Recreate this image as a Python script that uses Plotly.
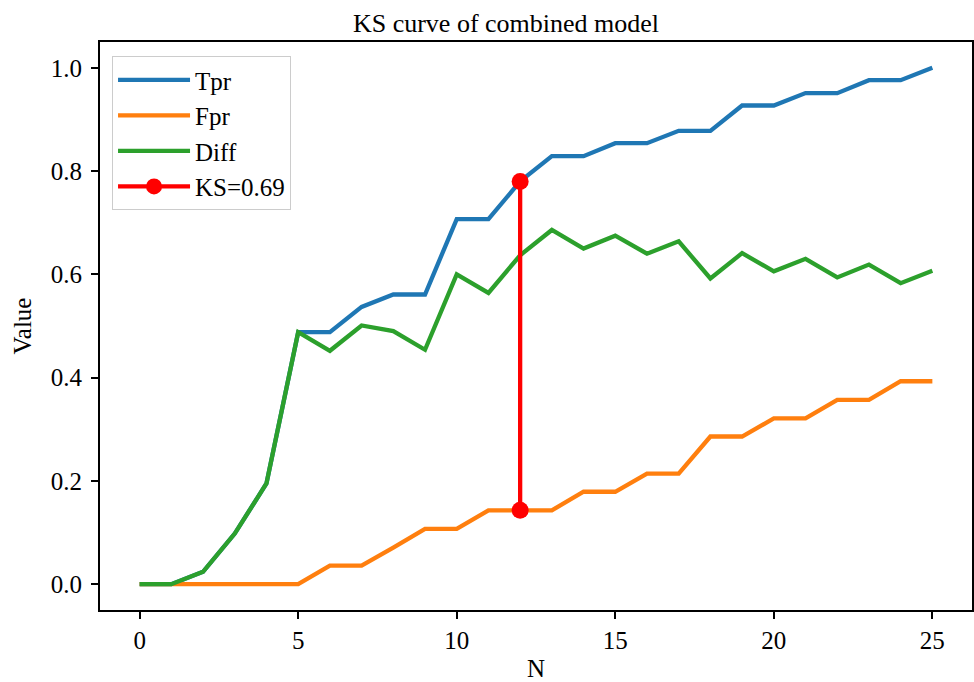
import plotly.graph_objects as go

N = list(range(26))
tpr = [0.0, 0.0, 0.024, 0.098, 0.195, 0.488, 0.488, 0.537, 0.561, 0.561,
       0.707, 0.707, 0.780, 0.829, 0.829, 0.854, 0.854, 0.878, 0.878, 0.927,
       0.927, 0.951, 0.951, 0.976, 0.976, 1.0]
fpr = [0.0, 0.0, 0.0, 0.0, 0.0, 0.0, 0.036, 0.036, 0.071, 0.107,
       0.107, 0.143, 0.143, 0.143, 0.179, 0.179, 0.214, 0.214, 0.286, 0.286,
       0.321, 0.321, 0.357, 0.357, 0.393, 0.393]
diff = [0.0, 0.0, 0.024, 0.098, 0.195, 0.488, 0.452, 0.501, 0.490, 0.454,
        0.600, 0.564, 0.637, 0.686, 0.650, 0.675, 0.640, 0.664, 0.592, 0.641,
        0.606, 0.630, 0.594, 0.619, 0.583, 0.607]
ks_x = [12, 12]
ks_y = [0.780, 0.143]
ks_label = "KS=0.69"

FONT = "Liberation Serif, Times New Roman, serif"

fig = go.Figure()
fig.add_trace(go.Scatter(x=N, y=tpr, mode="lines", name="Tpr",
                         line=dict(color="#1f77b4", width=4.3)))
fig.add_trace(go.Scatter(x=N, y=fpr, mode="lines", name="Fpr",
                         line=dict(color="#ff7f0e", width=4.3)))
fig.add_trace(go.Scatter(x=N, y=diff, mode="lines", name="Diff",
                         line=dict(color="#2ca02c", width=4.3)))
fig.add_trace(go.Scatter(x=ks_x, y=ks_y, mode="lines+markers", name=ks_label,
                         line=dict(color="#ff0000", width=4.3),
                         marker=dict(color="#ff0000", size=17)))

axis_common = dict(
    showgrid=False, zeroline=False, showline=True, linecolor="black",
    linewidth=2, mirror=True, ticks="outside", ticklen=7, tickwidth=2,
    tickcolor="black", tickfont=dict(family=FONT, size=25, color="black"),
    automargin=False,
)

fig.update_layout(
    width=974, height=682,
    margin=dict(l=100, r=2, t=42, b=72),
    paper_bgcolor="white", plot_bgcolor="white",
    font=dict(family=FONT, size=25, color="black"),
    title=dict(text="KS curve of combined model", x=0.5195, xanchor="center",
               y=0.967, yanchor="middle", font=dict(family=FONT, size=26, color="black")),
    xaxis=dict(range=[-1.25, 26.25], tickvals=[0, 5, 10, 15, 20, 25],
               title=dict(text="N", font=dict(family=FONT, size=25), standoff=14),
               **axis_common),
    yaxis=dict(range=[-0.05, 1.05], tickvals=[0, 0.2, 0.4, 0.6, 0.8, 1.0],
               tickformat=".1f", ticklabelstandoff=4,
               title=dict(text="Value", font=dict(family=FONT, size=25), standoff=12),
               **axis_common),
    legend=dict(x=0.0138, y=0.975, xanchor="left", yanchor="top",
                bgcolor="rgba(255,255,255,0.8)", bordercolor="#cccccc", borderwidth=1,
                font=dict(family=FONT, size=25, color="black"), itemwidth=72),
    showlegend=True,
)

fig.write_html("out.html")
